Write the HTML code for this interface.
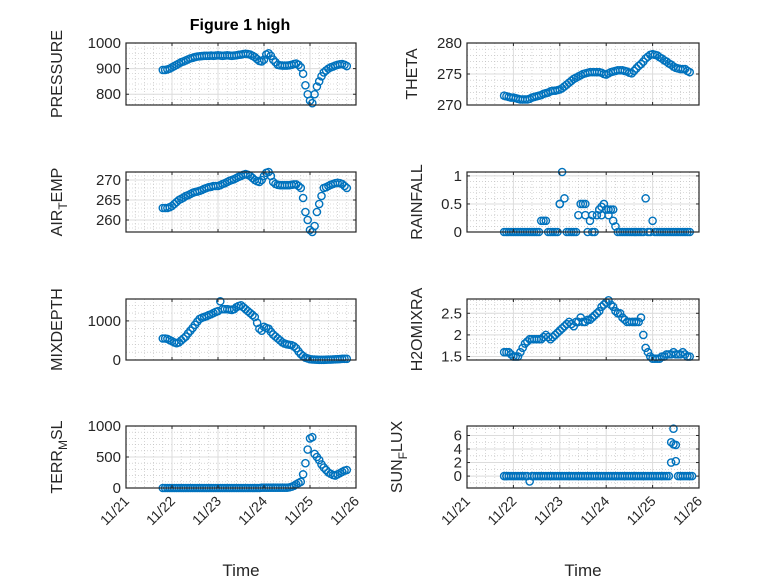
<!DOCTYPE html>
<html><head><meta charset="utf-8"><style>
html,body{margin:0;padding:0;background:#fff;}
svg{display:block;font-family:"Liberation Sans",sans-serif;}
</style></head><body>
<svg id="fig" width="778" height="583" viewBox="0 0 778 583">
<rect width="778" height="583" fill="#fff"/>
<text x="240" y="30" text-anchor="middle" font-size="16" font-weight="bold" fill="#000">Figure 1 high</text>
</svg>
<script>
const times=[
21.8,21.85,21.9,21.95,22.0,22.05,22.1,22.15,22.2,22.25,
22.3,22.35,22.4,22.45,22.5,22.55,22.6,22.65,22.7,22.75,
22.8,22.85,22.9,22.95,23.0,23.05,23.1,23.15,23.2,23.25,
23.3,23.35,23.4,23.45,23.5,23.55,23.6,23.65,23.7,23.75,
23.8,23.85,23.9,23.95,24.0,24.05,24.1,24.15,24.2,24.25,
24.3,24.35,24.4,24.45,24.5,24.55,24.6,24.65,24.7,24.75,
24.8,24.85,24.9,24.95,25.0,25.05,25.1,25.15,25.2,25.25,
25.3,25.35,25.4,25.45,25.5,25.55,25.6,25.65,25.7,25.75,
25.8];
const pressure=[
895,895,897,900,905,910,915,920,925,928,
932,936,940,942,945,947,948,949,950,950,
950,951,950,951,952,951,950,951,952,951,
950,951,952,954,955,957,958,957,955,950,
945,937,930,928,935,955,960,950,935,925,
915,913,912,912,912,913,915,918,920,915,
905,880,835,800,775,765,800,830,850,870,
885,893,900,905,908,912,915,917,918,915,
910];
const airTemp=[
263,263,263,263.2,263.5,264,264.5,265,265.3,265.6,
266,266.2,266.5,266.8,267,267.1,267.3,267.5,267.8,268,
268.2,268.3,268.5,268.5,268.5,268.7,269,269.2,269.5,269.8,
270,270.2,270.5,270.8,271,271.3,271.5,271.3,271,270.5,
270,269.7,269.5,270,271,271.8,272,271,269.5,269,
268.8,268.7,268.7,268.7,268.7,268.7,268.8,268.9,268.9,268.5,
268,265.5,262,260,257.5,257,258.5,262,264,266,
268,268.2,268.5,268.8,269,269.2,269.3,269.2,269,268.5,
268];
const theta=[
271.5,271.4,271.3,271.2,271.2,271.1,271,270.9,270.9,270.9,
270.9,271,271.2,271.3,271.4,271.5,271.6,271.8,271.9,272,
272.2,272.3,272.3,272.4,272.5,272.7,273,273.3,273.6,273.9,
274.2,274.4,274.6,274.8,275,275.1,275.2,275.3,275.3,275.3,
275.3,275.3,275.2,275,274.9,275.1,275.3,275.4,275.5,275.6,
275.6,275.6,275.5,275.4,275.2,275.1,275.5,275.9,276.3,276.6,
277,277.5,277.8,278.1,278.2,278.1,278,277.7,277.5,277.2,
277,276.7,276.5,276.2,276,275.9,275.8,275.8,275.8,275.5,
275.3];
const mixDepth=[
550,550,540,510,480,450,430,450,500,550,
600,680,750,820,900,980,1050,1080,1100,1120,
1150,1170,1200,1230,1250,1500,1300,1300,1300,1290,
1280,1300,1350,1380,1400,1350,1300,1250,1200,1150,
1100,950,800,750,850,820,800,720,650,600,
550,500,450,420,400,390,380,350,300,220,
150,100,60,40,20,15,10,8,5,5,
5,8,10,12,15,18,20,25,30,30,
30];
const terrMsl=[
0,0,0,0,0,0,0,0,0,0,
0,0,0,0,0,0,0,0,0,0,
0,0,0,0,0,0,0,0,0,0,
0,0,0,0,0,0,0,0,0,0,
0,0,0,5,5,5,5,5,5,5,
5,5,5,5,5,10,20,35,60,80,
100,220,400,620,800,820,550,500,450,380,
330,290,250,230,210,200,220,240,260,280,
290];
const h2o=[
1.6,1.6,1.6,1.55,1.5,1.5,1.5,1.6,1.7,1.8,
1.85,1.9,1.9,1.9,1.9,1.9,1.9,1.95,2.0,1.95,
1.9,1.95,2.0,2.05,2.1,2.15,2.2,2.25,2.3,2.25,
2.2,2.3,2.3,2.4,2.3,2.3,2.35,2.35,2.4,2.45,
2.5,2.55,2.65,2.7,2.75,2.8,2.7,2.65,2.55,2.5,
2.5,2.4,2.35,2.3,2.3,2.3,2.3,2.3,2.3,2.4,
2.0,1.7,1.6,1.5,1.45,1.45,1.45,1.45,1.5,1.5,
1.55,1.55,1.55,1.6,1.55,1.55,1.55,1.6,1.55,1.5,
1.5];
const rainfall=[
0,0,0,0,0,0,0,0,0,0,
0,0,0,0,0,0,0.2,0.2,0.2,0,
0,0,0,0,0.5,1.07,0.6,0,0,0,
0,0,0.3,0.5,0.5,0.5,0,0.2,0.3,0,
0.3,0.4,0.3,0.5,0.4,0.4,0.4,0.2,0.1,0,
0,0,0,0,0,0,0,0,0,0,
0,0.6,0,0,0.2,0,0,0,0,0,
0,0,0,0,0,0,0,0,0,0,
0];
const rainExtraTimes=[23.0,23.55,23.7,23.9,24.05,24.15];
const rainExtra=[0.5,0.3,0,0.45,0.3,0.4];
const sunFlux=[
0,0,0,0,0,0,0,0,0,0,
0,-0.8,0,0,0,0,0,0,0,0,
0,0,0,0,0,0,0,0,0,0,
0,0,0,0,0,0,0,0,0,0,
0,0,0,0,0,0,0,0,0,0,
0,0,0,0,0,0,0,0,0,0,
0,0,0,0,0,0,0,0,0,0,
0,0,2,7,4.6,0,0,0,0,0,
0];
const sunExtraTimes=[21.85,25.4,25.45,25.5,25.85];
const sunExtra=[0,5,4.7,2.2,0];
const xTickLabels=["11/21","11/22","11/23","11/24","11/25","11/26"];
const pressTicks=[800,900,1000], airTicks=[260,265,270], thetaTicks=[270,275,280], rainTicks=[0,0.5,1], mixTicks=[0,1000], terrTicks=[0,500,1000], h2oTicks=[1.5,2,2.5], sunTicks=[0,2,4,6];

const NS="http://www.w3.org/2000/svg";
const svg=document.getElementById('fig');
function el(tag,attrs,parent){const e=document.createElementNS(NS,tag);for(const k in attrs)e.setAttribute(k,attrs[k]);(parent||svg).appendChild(e);return e;}

function panel(o){
  const g=el('g',{});
  
  
  const sx=t=>o.x0+(t-21)/5*(o.x1-o.x0);
  const sy=v=>o.y1-(v-o.ymin)/(o.ymax-o.ymin)*(o.y1-o.y0);
  for(let t=21;t<=26.001;t+=0.2){const x=sx(t);if(Math.abs(t-Math.round(t))<1e-6)continue;
    el('line',{x1:x,x2:x,y1:o.y0,y2:o.y1,stroke:'#bbb','stroke-width':0.6,'stroke-dasharray':'1 2'},g);}
  for(let v=Math.ceil(o.ymin/o.minor)*o.minor;v<=o.ymax;v+=o.minor){const y=sy(v);
    el('line',{x1:o.x0,x2:o.x1,y1:y,y2:y,stroke:'#bbb','stroke-width':0.6,'stroke-dasharray':'1 2'},g);}
  for(let d=22;d<=25;d++){const x=sx(d);el('line',{x1:x,x2:x,y1:o.y0,y2:o.y1,stroke:'#dcdcdc','stroke-width':1},g);}
  o.ticks.forEach(v=>{const y=sy(v);el('line',{x1:o.x0,x2:o.x1,y1:y,y2:y,stroke:'#dcdcdc','stroke-width':1},g);});
  const mg=el('g',{fill:'none',stroke:'#0072BD','stroke-width':1.4},g);
  
  
  const sets=[[o.t,o.v]];
  if(o.t2)sets.push([o.t2,o.v2]);
  sets.forEach(([T,V])=>{
    for(let i=0;i<T.length;i++){
      const c=el('circle',{cx:sx(T[i]),cy:sy(V[i]),r:3.6},mg);
      
      
    }
  });
  el('rect',{x:o.x0,y:o.y0,width:o.x1-o.x0,height:o.y1-o.y0,fill:'none',stroke:'#262626','stroke-width':1.2},g);
  for(let d=21;d<=26;d++){const x=sx(d);
    el('line',{x1:x,x2:x,y1:o.y1,y2:o.y1-3,stroke:'#262626'},g);
    el('line',{x1:x,x2:x,y1:o.y0,y2:o.y0+3,stroke:'#262626'},g);}
  o.ticks.forEach((v,i)=>{const y=sy(v);
    el('line',{x1:o.x0,x2:o.x0+3,y1:y,y2:y,stroke:'#262626'},g);
    el('line',{x1:o.x1,x2:o.x1-3,y1:y,y2:y,stroke:'#262626'},g);
    const t=el('text',{x:o.x0-5,y:y+5,'text-anchor':'end','font-size':o.tfs||15,fill:'#262626'},g);
    t.textContent=o.tickLabels?o.tickLabels[i]:String(v);
    
    
  });
  const yl=el('text',{transform:`translate(${o.lx},${(o.y0+o.y1)/2}) rotate(-90)`,'text-anchor':'middle','font-size':16,fill:'#262626'},g);
  yl.innerHTML=o.label;
  
  
  if(o.xlabels){
    xTickLabels.forEach((s,i)=>{const x=sx(21+i);
      const t=el('text',{transform:`translate(${x+4},${o.y1+14}) rotate(-45)`,'text-anchor':'end','font-size':14,fill:'#262626'},g);
      t.textContent=s;
      
      
    });
    const xt=el('text',{x:(o.x0+o.x1)/2,y:576,'text-anchor':'middle','font-size':17,fill:'#262626'},g);
    xt.textContent='Time';
    
    
  }
}
const L0=126,L1=356,R0=467,R1=699;
const sub=(a,b,c)=>`${a}<tspan font-size="12" dy="5">${b}</tspan><tspan dy="-5">${c}</tspan>`;
panel({name:'pressure',x0:L0,x1:L1,y0:43,y1:105,ymin:758,ymax:1000,ticks:pressTicks,minor:20,t:times,v:pressure,lx:62,label:'PRESSURE'});
panel({name:'theta',x0:R0,x1:R1,y0:43,y1:105,ymin:270,ymax:280,ticks:thetaTicks,minor:1,t:times,v:theta,lx:417,label:'THETA'});
panel({name:'air-temp',x0:L0,x1:L1,y0:172,y1:232,ymin:257,ymax:272,ticks:airTicks,minor:1,t:times,v:airTemp,lx:62,label:sub('AIR','T','EMP')});
panel({name:'rainfall',x0:R0,x1:R1,y0:172,y1:232,ymin:0,ymax:1.07,ticks:rainTicks,tickLabels:['0','0.5','1'],minor:0.1,t:times,v:rainfall,t2:rainExtraTimes,v2:rainExtra,lx:422,label:'RAINFALL'});
panel({name:'mixdepth',x0:L0,x1:L1,y0:299,y1:360,ymin:0,ymax:1560,ticks:mixTicks,minor:200,t:times,v:mixDepth,lx:62,label:'MIXDEPTH'});
panel({name:'h2omixra',x0:R0,x1:R1,y0:299,y1:360,ymin:1.42,ymax:2.83,ticks:h2oTicks,tickLabels:['1.5','2','2.5'],minor:0.1,t:times,v:h2o,lx:422,label:'H2OMIXRA'});
panel({name:'terr-msl',x0:L0,x1:L1,y0:426,y1:488,ymin:0,ymax:1000,ticks:terrTicks,minor:100,t:times,v:terrMsl,lx:62,label:sub('TERR','M','SL'),xlabels:true});
panel({name:'sunflux',x0:R0,x1:R1,y0:426,y1:488,ymin:-1.76,ymax:7.4,ticks:sunTicks,minor:1,t:times,v:sunFlux,t2:sunExtraTimes,v2:sunExtra,lx:402,label:sub('SUN','F','LUX'),xlabels:true});
</script>
</body></html>
